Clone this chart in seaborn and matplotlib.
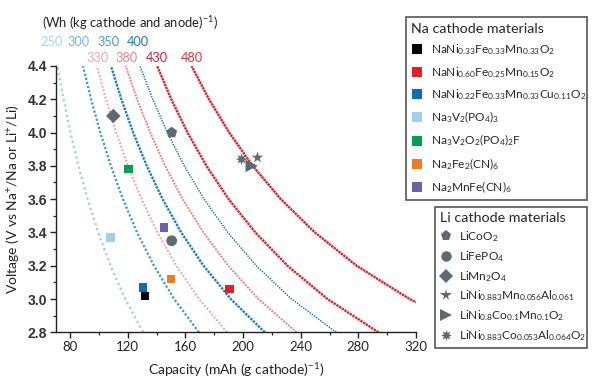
import matplotlib
matplotlib.use("Agg")
import matplotlib.pyplot as plt
from matplotlib.lines import Line2D
from matplotlib.ticker import MultipleLocator
import seaborn as sns
import pandas as pd

# ---------------- data ----------------
volts = [2.8, 3.0, 3.2, 3.4, 3.6, 3.8, 4.0, 4.2, 4.4]
cap_250 = [130.7, 118.3, 108.1, 99.5, 92.2, 85.8, 80.3, 75.5, 71.2]
cap_300 = [169.4, 152.2, 138.2, 126.5, 116.7, 108.3, 101.0, 94.6, 89.0]
cap_330 = [188.9, 169.5, 153.7, 140.6, 129.6, 120.1, 112.0, 104.9, 98.6]
cap_350 = [215.1, 191.5, 172.6, 157.1, 144.2, 133.2, 123.8, 115.6, 108.4]
cap_380 = [237.1, 210.7, 189.7, 172.5, 158.1, 146.0, 135.6, 126.5, 118.6]
cap_400 = [264.6, 233.6, 209.2, 189.4, 173.0, 159.2, 147.5, 137.4, 128.5]
cap_430 = [293.9, 258.6, 230.8, 208.5, 190.0, 174.6, 161.5, 150.2, 140.4]
cap_480 = [363.2, 315.5, 278.8, 249.8, 226.2, 206.7, 190.4, 176.4, 164.3]

energy_blue = ["250", "300", "350", "400"]
energy_red = ["330", "380", "430", "480"]

na_labels = [
    "NaNi$_{0.33}$Fe$_{0.33}$Mn$_{0.33}$O$_2$",
    "NaNi$_{0.60}$Fe$_{0.25}$Mn$_{0.15}$O$_2$",
    "NaNi$_{0.22}$Fe$_{0.33}$Mn$_{0.33}$Cu$_{0.11}$O$_2$",
    "Na$_3$V$_2$(PO$_4$)$_3$",
    "Na$_3$V$_2$O$_2$(PO$_4$)$_2$F",
    "Na$_2$Fe$_2$(CN)$_6$",
    "Na$_2$MnFe(CN)$_6$",
]
na_cap = [132.0, 190.5, 130.5, 108.0, 120.5, 150.0, 145.0]
na_volt = [3.02, 3.06, 3.07, 3.37, 3.78, 3.12, 3.43]

li_labels = [
    "LiCoO$_2$",
    "LiFePO$_4$",
    "LiMn$_2$O$_4$",
    "LiNi$_{0.883}$Mn$_{0.056}$Al$_{0.061}$",
    "LiNi$_{0.8}$Co$_{0.1}$Mn$_{0.1}$O$_2$",
    "LiNi$_{0.883}$Co$_{0.053}$Al$_{0.064}$O$_2$",
]
li_cap = [150.5, 150.5, 110.0, 210.0, 206.0, 199.0]
li_volt = [4.00, 3.35, 4.10, 3.85, 3.80, 3.84]

x_ticks = [80, 120, 160, 200, 240, 280, 320]
y_ticks = [2.8, 3.0, 3.2, 3.4, 3.6, 3.8, 4.0, 4.2, 4.4]

# ---------------- style ----------------
sns.set_theme(style="ticks")
plt.rcParams["font.family"] = ["Lato", "DejaVu Sans"]
plt.rcParams["mathtext.fontset"] = "custom"
plt.rcParams["mathtext.rm"] = "Lato"
plt.rcParams["mathtext.it"] = "Lato:italic"
plt.rcParams["mathtext.bf"] = "Lato:bold"
plt.rcParams["mathtext.default"] = "rm"

fig = plt.figure(figsize=(6.0, 3.85), dpi=100)
ax = fig.add_axes([0.0927, 0.1369, 0.6007, 0.6917])

curves = [
    (cap_250, "#9ccbeb", 1.6, (0, (1.0, 1.4))),
    (cap_300, "#3f96d5", 1.6, (0, (1.0, 0.9))),
    (cap_330, "#f4a1a7", 1.4, (0, (1.0, 0.9))),
    (cap_350, "#1a7cc3", 1.7, (0, (1.0, 0.5))),
    (cap_380, "#ef7f87", 1.4, (0, (1.0, 0.6))),
    (cap_400, "#0b68b0", 1.0, (0, (1.0, 0.9))),
    (cap_430, "#e31e2a", 1.7, (0, (1.0, 0.35))),
    (cap_480, "#e31e2a", 1.7, (0, (1.0, 0.3))),
]
for caps, col, lw, ls in curves:
    df = pd.DataFrame({"cap": caps, "V": volts})
    sns.lineplot(data=df, x="cap", y="V", sort=False, estimator=None,
                 color=col, lw=lw, linestyle=ls, ax=ax, zorder=2)

# Na materials (squares)
na_colors = ["#000000", "#e31e24", "#0b6db4", "#9fd0f0", "#00a050", "#ee7d22", "#6e62a6"]
for x, y, c in zip(na_cap, na_volt, na_colors):
    sns.scatterplot(x=[x], y=[y], marker="s", s=36, color=c, edgecolor="none",
                    ax=ax, zorder=4, legend=False)

# Li materials (grey symbols)
li_color = "#5e6a72"
li_markers = ["p", "o", "D", "*", ">", (8, 1, 0)]
li_sizes = [70, 60, 55, 75, 80, 70]
for x, y, m, s in zip(li_cap, li_volt, li_markers, li_sizes):
    sns.scatterplot(x=[x], y=[y], marker=m, s=s, color=li_color, edgecolor="none",
                    ax=ax, zorder=4, legend=False)

ax.set_xlim(70, 320)
ax.set_ylim(2.8, 4.4)
ax.set_xticks(x_ticks)
ax.set_yticks(y_ticks)
ax.xaxis.set_minor_locator(MultipleLocator(20))
ax.yaxis.set_minor_locator(MultipleLocator(0.1))
ax.set_yticklabels([f"{v:.1f}" for v in y_ticks],
                   family=["Liberation Sans Narrow", "Liberation Sans"],
                   weight="bold", fontsize=10, color="#333333")
ax.set_xticklabels([str(v) for v in x_ticks], fontsize=9.5, color="#222222")
ax.tick_params(axis="both", which="major", direction="out", length=4, width=1, color="#222222", pad=2)
ax.tick_params(axis="both", which="minor", direction="out", length=2.5, width=0.9, color="#222222")
sns.despine(ax=ax)
for sp in ["left", "bottom"]:
    ax.spines[sp].set_color("#222222")
    ax.spines[sp].set_linewidth(1.0)

ax.set_xlabel("Capacity (mAh (g cathode)$^{-1}$)", fontsize=10, color="#222222", labelpad=6)
ax.set_ylabel("Voltage (V vs Na$^{+}$/Na or Li$^{+}$/Li)", fontsize=10, color="#222222", labelpad=5)

# energy density labels
fig.text(41.7 / 600, 1 - 23.3 / 385, "(Wh (kg cathode and anode)$^{-1}$)", fontsize=9.4,
         color="#222222", ha="left", va="center")
blue_lab_cols = ["#a9d3ef", "#7cb5e1", "#4b98d3", "#1f74bb"]
blue_lab_x = [51, 79, 109, 138.3]
for t, c, x in zip(energy_blue, blue_lab_cols, blue_lab_x):
    fig.text(x / 600, 1 - 41.7 / 385, t, fontsize=9.2, color=c, ha="center", va="center")
red_lab_cols = ["#f5a6ab", "#ef8088", "#e3173d", "#e8303a"]
red_lab_x = [97.3, 126.7, 157.3, 191.7]
for t, c, x in zip(energy_red, red_lab_cols, red_lab_x):
    fig.text(x / 600, 1 - 58.3 / 385, t, fontsize=9.2, color=c, ha="center", va="center")

# legends
na_handles = [Line2D([], [], marker="s", ls="none", color=c, markersize=7, markeredgewidth=0)
              for c in na_colors]
leg1 = fig.legend(na_handles, na_labels, title="Na cathode materials", loc="upper left",
                  bbox_to_anchor=(405.7 / 600, 1 - 17.3 / 385, 181 / 600, 0.0), mode="expand",
                  borderaxespad=0, fontsize=8.6, title_fontsize=10.3, alignment="left",
                  frameon=True, fancybox=False, edgecolor="#555555", framealpha=1,
                  handlelength=1.0, handletextpad=0.65, labelspacing=0.64, borderpad=0.45)
leg1.get_frame().set_linewidth(1.2)

li_handles = [Line2D([], [], marker=m, ls="none", color=li_color, markersize=ms, markeredgewidth=0)
              for m, ms in zip(li_markers, [8, 7.5, 7, 8.5, 8.5, 8])]
leg2 = fig.legend(li_handles, li_labels, title="Li cathode materials", loc="upper left",
                  bbox_to_anchor=(435 / 600, 1 - 206.7 / 385, 151.7 / 600, 0.0), mode="expand",
                  borderaxespad=0, fontsize=8.6, title_fontsize=10.3, alignment="left",
                  frameon=True, fancybox=False, edgecolor="#555555", framealpha=1,
                  handlelength=1.0, handletextpad=0.6, labelspacing=0.42, borderpad=0.45)
leg2.get_frame().set_linewidth(1.2)

fig.savefig("out.png", dpi=100)
